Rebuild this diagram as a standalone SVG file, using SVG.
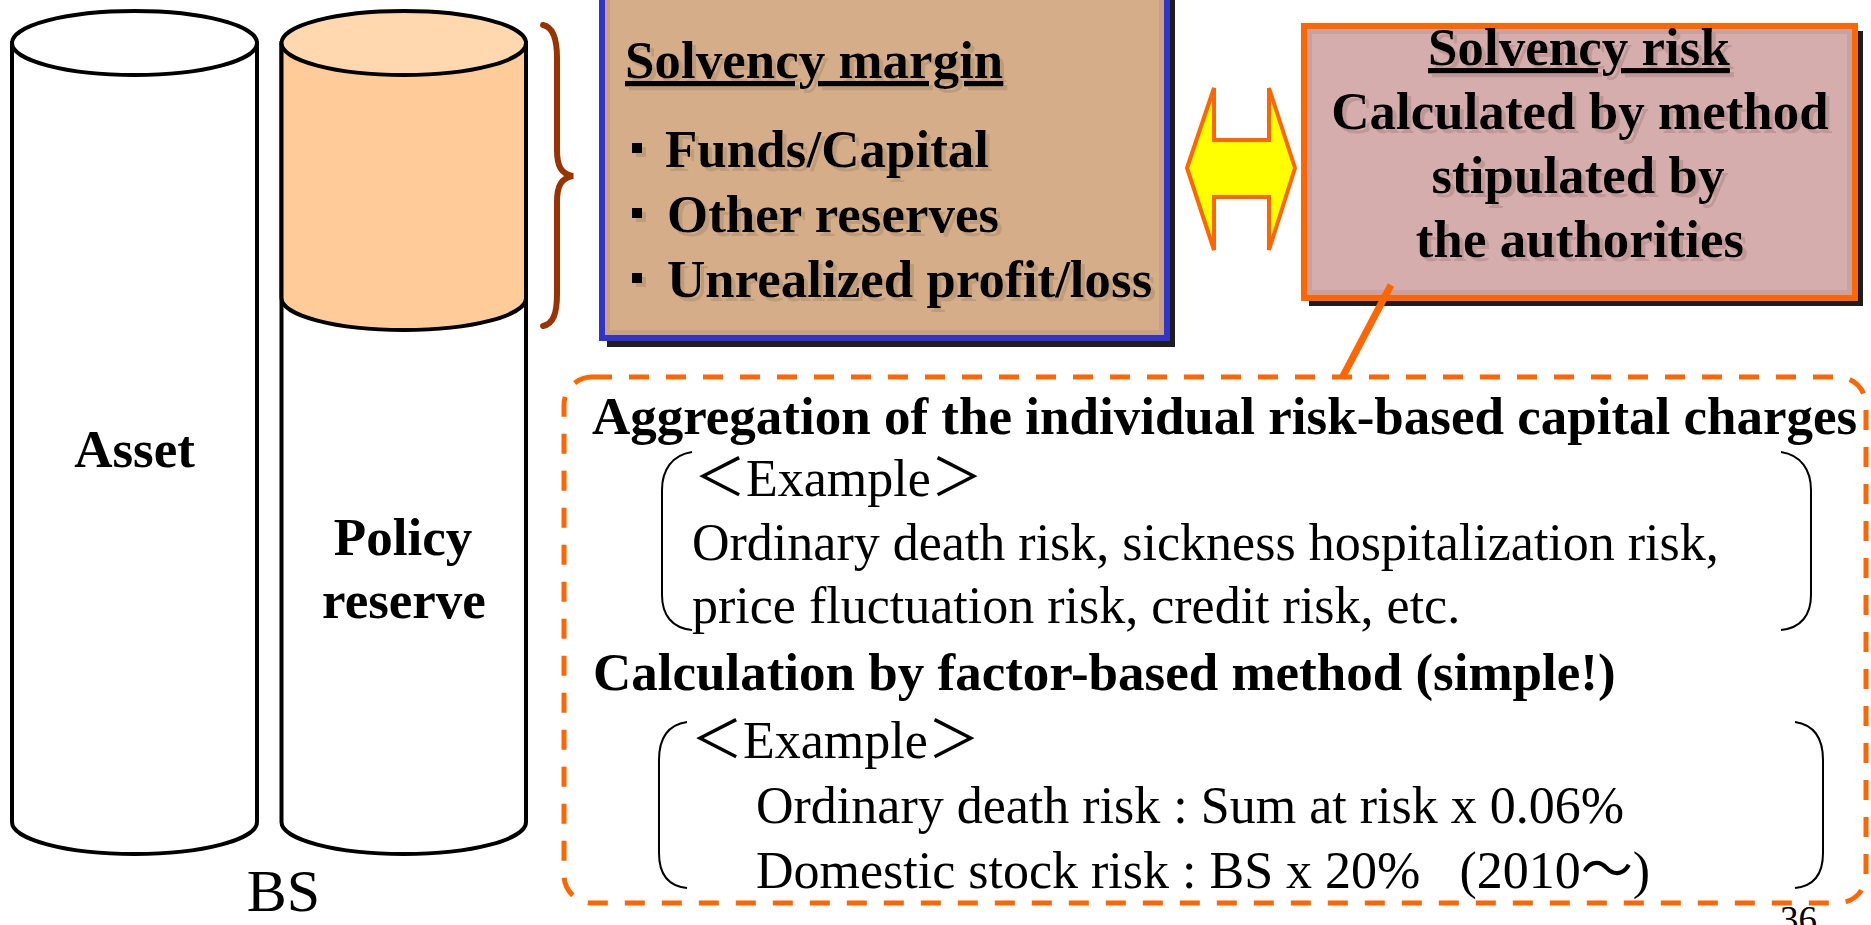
<svg xmlns="http://www.w3.org/2000/svg" width="1871" height="925" viewBox="0 0 1871 925">
  <style>
    .cyl { stroke: #000; stroke-width: 4; }
    .b { font-family: "Liberation Serif", "Times New Roman", serif; font-weight: bold; font-size: 53px; fill: #000; }
    .r { font-family: "Liberation Serif", "Times New Roman", "Noto Sans CJK JP", serif; font-size: 52px; fill: #000; white-space: pre; }
    .cjk { font-family: "Liberation Serif", "Noto Sans CJK JP", serif; font-size: 52px; fill: #000; }
    .ul { text-decoration: underline; }
    .bracket { fill: none; stroke: #000; stroke-width: 2; }
  </style>
  <defs>
    <filter id="shadowTan" x="-5%" y="-20%" width="110%" height="140%">
      <feOffset in="SourceAlpha" dx="4" dy="4" result="off"/>
      <feFlood flood-color="#BE9B79"/>
      <feComposite operator="in" in2="off" result="sh"/>
      <feMerge><feMergeNode in="sh"/><feMergeNode in="SourceGraphic"/></feMerge>
    </filter>
    <filter id="shadowPink" x="-5%" y="-20%" width="110%" height="140%">
      <feOffset in="SourceAlpha" dx="4" dy="4" result="off"/>
      <feFlood flood-color="#BF9797"/>
      <feComposite operator="in" in2="off" result="sh"/>
      <feMerge><feMergeNode in="sh"/><feMergeNode in="SourceGraphic"/></feMerge>
    </filter>
  </defs>

  <rect width="1871" height="925" fill="#fff"/>

  <!-- Asset cylinder -->
  <g id="asset">
    <path class="cyl" fill="#fff" d="M12,43 L12,822 A122.5,32 0 0 0 257,822 L257,43 Z"/>
    <ellipse class="cyl" fill="#fff" cx="134.5" cy="43" rx="122.5" ry="32"/>
    <text class="b" x="134.5" y="467" text-anchor="middle">Asset</text>
  </g>

  <!-- Liability cylinder: policy reserve with solvency margin band on top -->
  <g id="policy-reserve">
    <path class="cyl" fill="#fff" d="M281.5,43 L281.5,822 A122.25,32 0 0 0 526,822 L526,43 Z"/>
    <path fill="#FFCC99" d="M281.5,43 L281.5,298 A122.25,32 0 0 0 526,298 L526,43 Z"/>
    <path class="cyl" fill="none" d="M281.5,43 L281.5,298 A122.25,32 0 0 0 526,298 L526,43"/>
    <ellipse class="cyl" fill="#FFD8B0" cx="403.75" cy="43" rx="122.25" ry="32"/>
    <text class="b" x="403" y="555" text-anchor="middle">Policy</text>
    <text class="b" x="404" y="618" text-anchor="middle">reserve</text>
  </g>

  <!-- BS caption -->
  <g id="bs-label">
    <text x="283.5" y="911" text-anchor="middle" font-family="Liberation Serif, serif" font-size="60">BS</text>
  </g>

  <!-- Curly brace grouping the top band -->
  <g id="brace">
    <path fill="none" stroke="#993300" stroke-width="6" stroke-linecap="round"
          d="M543,25 C553,27 557,38 557,58 L557,150 C557,166 561,174 573,176 C561,178 557,186 557,202 L557,294 C557,314 553,324 543,326"/>
  </g>

  <!-- Solvency margin box -->
  <g id="solvency-margin">
    <rect x="607" y="-15" width="568" height="362" fill="#1E1E1E"/>
    <rect x="602" y="-20" width="565" height="358" fill="#D5AE89" stroke="#3333CC" stroke-width="6"/>
    <rect x="607.5" y="-15" width="554" height="347.5" fill="none" stroke="#C8A27E" stroke-width="5"/>
    <g filter="url(#shadowTan)">
      <text class="b ul" x="625" y="78">Solvency margin</text>
      <rect x="632" y="143" width="10" height="10" fill="#000"/>
      <text class="b" x="665" y="167">Funds/Capital</text>
      <rect x="632" y="208" width="10" height="10" fill="#000"/>
      <text class="b" x="667" y="232">Other reserves</text>
      <rect x="632" y="273" width="10" height="10" fill="#000"/>
      <text class="b" x="667" y="297">Unrealized profit/loss</text>
    </g>
  </g>

  <!-- Solvency risk box -->
  <g id="solvency-risk">
    <rect x="1309" y="31" width="554" height="275" fill="#1E1E1E"/>
    <rect x="1304" y="26" width="551" height="272" fill="#D5ADAD" stroke="#FF6600" stroke-width="6"/>
    <rect x="1309.5" y="31.5" width="540" height="261" fill="none" stroke="#C9A1A1" stroke-width="5"/>
    <g filter="url(#shadowPink)" text-anchor="middle">
      <text class="b ul" x="1579" y="65">Solvency risk</text>
      <text class="b" x="1580" y="129">Calculated by method</text>
      <text class="b" x="1578" y="193">stipulated by</text>
      <text class="b" x="1580" y="257">the authorities</text>
    </g>
  </g>

  <!-- Double-headed arrow between margin and risk -->
  <g id="compare-arrow">
    <polygon fill="#FFFF00" stroke="#FF6600" stroke-width="4" stroke-linejoin="miter"
             points="1187,168 1214,88 1214,140 1269,140 1269,88 1295,168 1269,250 1269,197 1214,197 1214,250"/>
  </g>

  <!-- Risk calculation detail box -->
  <g id="risk-detail">
    <rect x="564" y="377" width="1302" height="526" rx="28" ry="28" fill="#fff" stroke="#FF6600" stroke-width="5" stroke-dasharray="20 17"/>
    <text class="b" x="592" y="434">Aggregation of the individual risk-based capital charges</text>
    <path class="bracket" d="M692,452 C672,455 662,470 662,490 L662,595 C662,615 672,628 692,630"/>
    <path class="bracket" d="M1781,452 C1801,455 1811,470 1811,490 L1811,595 C1811,615 1801,628 1781,630"/>
    <text class="cjk" x="694" y="496">＜Example＞</text>
    <text class="r" x="692" y="560">Ordinary death risk, sickness hospitalization risk,</text>
    <text class="r" x="692" y="623">price fluctuation risk, credit risk, etc.</text>
    <text class="b" x="593" y="690">Calculation by factor-based method (simple!)</text>
    <path class="bracket" d="M687,722 C667,725 659,740 659,760 L659,853 C659,873 667,886 687,888"/>
    <path class="bracket" d="M1795,722 C1815,725 1823,740 1823,760 L1823,853 C1823,873 1815,886 1795,888"/>
    <text class="cjk" x="691" y="758">＜Example＞</text>
    <text class="r" x="756" y="823">Ordinary death risk : Sum at risk x 0.06%</text>
    <text class="r" x="756" y="888">Domestic stock risk : BS x 20%   (2010～)</text>
  </g>

  <!-- Connector from the risk box down to the detail box -->
  <g id="connectors">
    <line x1="1391" y1="285" x2="1342" y2="378" stroke="#FF6600" stroke-width="7"/>
  </g>

  <!-- Page number -->
  <g id="page-number">
    <text x="1780" y="932" font-family="Liberation Serif, serif" font-size="37">36</text>
  </g>
</svg>
